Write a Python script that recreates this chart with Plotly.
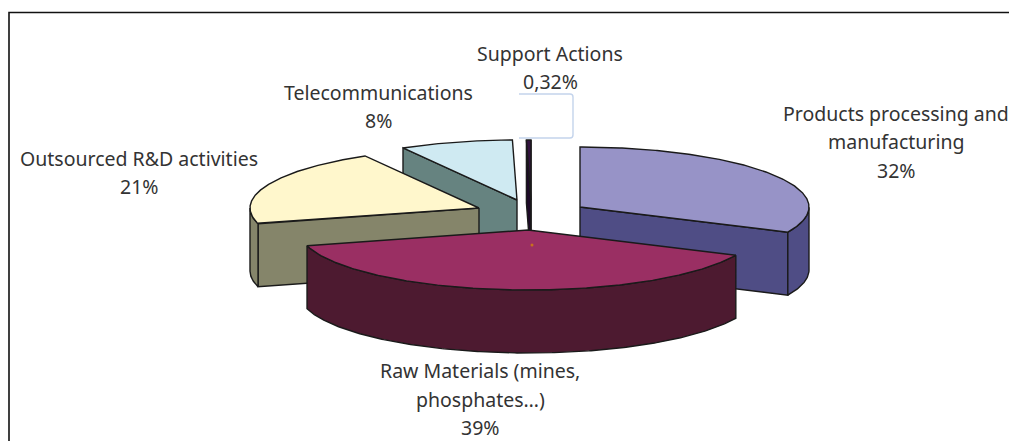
import numpy as np
import plotly.graph_objects as go

# Data
category_lines = [["Products processing and", "manufacturing"], ["Raw Materials (mines,", "phosphates…)"],
                  ["Outsourced R&D activities"], ["Telecommunications"], ["Support Actions"]]
shares = [32, 39, 21, 8, 0.32]
share_labels = ["32%", "39%", "21%", "8%", "0,32%"]

# Styling / layout (pixels of the 1009x441 page)
top_colors = ["#9793C7", "#9A2F63", "#FFF7CC", "#CFEAF2", "#33123F"]
side_colors = ["#4F4D85", "#4D1A30", "#85856A", "#668380", "#1E0A28"]
apexes = [(580, 207), (528, 230), (479, 208), (517, 200), (531, 200)]
label_x = [896, 480, 139, 378, 550]
label_y0 = [113, 370.5, 158, 92, 53]
LINE_STEP = 28.7
RX, RY, DEPTH = 229, 60, 63
START_DEG = 90
draw_order = [3, 4, 0, 2, 1]

fig = go.Figure()
LINE = dict(color="#1a1a1a", width=1.4)

def poly(xs, ys, color):
    fig.add_trace(go.Scatter(x=xs, y=ys, mode="lines", fill="toself", fillcolor=color,
                             line=LINE, hoverinfo="skip", showlegend=False))

total = sum(shares)
sweeps = [360 * s / total for s in shares]
starts = START_DEG - np.concatenate([[0], np.cumsum(sweeps)[:-1]])

for i in draw_order:
    cx, cy = apexes[i]
    a0, a1 = starts[i], starts[i] - sweeps[i]
    px = lambda t: cx + RX * np.cos(np.radians(t))
    py = lambda t: cy - RY * np.sin(np.radians(t))
    # radial cut faces
    if np.cos(np.radians(a0)) < 0:
        poly([cx, px(a0), px(a0), cx, cx], [cy, py(a0), py(a0) + DEPTH, cy + DEPTH, cy], side_colors[i])
    if np.cos(np.radians(a1)) > 0:
        poly([cx, px(a1), px(a1), cx, cx], [cy, py(a1), py(a1) + DEPTH, cy + DEPTH, cy], side_colors[i])
    # outer rim: only the part in the lower half of the ellipse is visible
    ts = np.linspace(a0, a1, 240)
    ts = ts[np.sin(np.radians(ts)) <= 0]
    if len(ts) > 1:
        xs = px(ts)
        ys = py(ts)
        poly(np.r_[xs, xs[::-1], xs[0]], np.r_[ys, ys[::-1] + DEPTH, ys[0]], side_colors[i])
    # top surface
    ts = np.linspace(a0, a1, 240)
    poly(np.r_[cx, px(ts), cx], np.r_[cy, py(ts), cy], top_colors[i])

# leader line for the small slice
fig.add_shape(type="path", path="M 519 94 L 570 94 Q 573 94 573 97 L 573 135 Q 573 138 570 138 L 519 138",
              line=dict(color="#C4D4EC", width=1.4), xref="x", yref="y")
# centre marker
fig.add_shape(type="circle", x0=530.5, x1=533.5, y0=243.5, y1=246.5, fillcolor="#C8701E",
              line=dict(width=0), xref="x", yref="y")
# frame: only left and top edges are visible
fig.add_shape(type="path", path="M 9 445 L 9 12.5 L 1015 12.5", line=dict(color="#111111", width=1.6),
              xref="x", yref="y")

for lines, s, x, y0 in zip(category_lines, share_labels, label_x, label_y0):
    for k, txt in enumerate(lines + [s]):
        fig.add_annotation(x=x, y=y0 + k * LINE_STEP, text=txt, showarrow=False, xref="x", yref="y",
                           align="center", font=dict(family="Noto Sans", size=19.5, color="#333333"))

fig.update_layout(width=1009, height=441, margin=dict(l=0, r=0, t=0, b=0),
                  paper_bgcolor="white", plot_bgcolor="white", showlegend=False,
                  xaxis=dict(range=[0, 1009], visible=False, fixedrange=True),
                  yaxis=dict(range=[441, 0], visible=False, fixedrange=True))
fig.write_html("out.html", config={"displayModeBar": False},
               post_script="document.documentElement.style.overflow='hidden';document.body.style.margin='0';")
